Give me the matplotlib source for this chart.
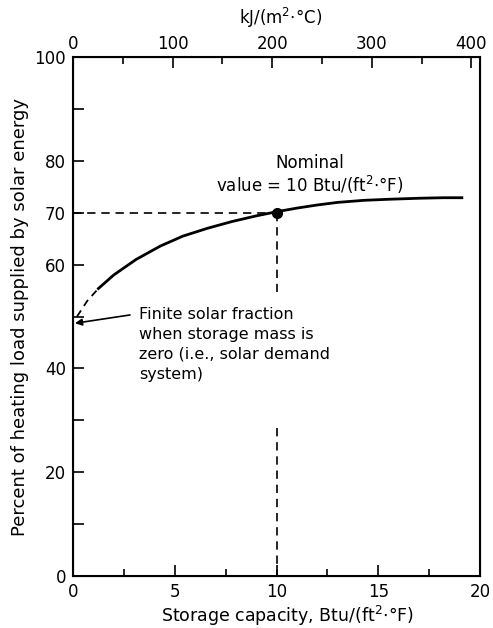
import matplotlib
matplotlib.use("Agg")
import matplotlib.pyplot as plt
import numpy as np

# curve: storage capacity (Btu/ft2 F) vs percent solar
x_dash = [0.2, 0.7, 1.25]
y_dash = [50.0, 53.0, 55.4]
x_solid = [1.25, 2.0, 3.1, 4.3, 5.4, 6.6, 7.8, 9.0, 10.0, 11.0, 12.0, 13.0, 14.3, 15.5, 17.0, 18.2, 19.1]
y_solid = [55.4, 58.0, 61.0, 63.6, 65.5, 67.0, 68.3, 69.4, 70.2, 70.9, 71.5, 72.0, 72.4, 72.6, 72.8, 72.9, 72.9]
nominal_x, nominal_y = 10, 70

yticks = [0, 10, 20, 30, 40, 50, 60, 70, 80, 90, 100]
ylabels = ["0", "", "20", "", "40", "", "60", "70", "80", "", "100"]
top_ticks = [0, 100, 200, 300, 400]
conv = 20.44  # kJ/(m2 C) per Btu/(ft2 F)

plt.rcParams["font.family"] = ["DejaVu Sans"]
fig = plt.figure(figsize=(4.93, 6.28), dpi=100)
ax = fig.add_axes([0.148, 0.083, 0.826, 0.826])

ax.plot(x_dash, y_dash, color="black", linestyle=(0, (4, 3)), linewidth=1.3)
ax.plot(x_solid, y_solid, color="black", linewidth=2)
ax.plot(nominal_x, nominal_y, "o", color="black", markersize=7)

# guide lines at nominal value
dash = (0, (5, 3.5))
ax.plot([0, nominal_x], [nominal_y, nominal_y], color="black", linestyle=dash, linewidth=1.2)
ax.plot([nominal_x, nominal_x], [nominal_y, 54.7], color="black", linestyle=dash, linewidth=1.2)
ax.plot([nominal_x, nominal_x], [28.5, 0], color="black", linestyle=dash, linewidth=1.2)

ax.set_xlim(0, 20)
ax.set_ylim(0, 100)
ax.set_xticks([0, 5, 10, 15, 20])
ax.set_xticks([2.5, 7.5, 12.5, 17.5], minor=True)
ax.set_yticks(yticks)
ax.set_yticklabels(ylabels)
ax.tick_params(direction="in", length=8, width=1.2, labelsize=12)
ax.tick_params(axis="x", pad=5)
ax.tick_params(axis="y", pad=5)
ax.tick_params(which="minor", direction="in", length=5, width=1.2)
for s in ax.spines.values():
    s.set_linewidth(1.5)

ax.set_xlabel("Storage capacity, Btu/(ft$^2$$\\cdot$°F)", fontsize=12.5, labelpad=2)
ax.xaxis.label.set_x(0.528)
ax.set_ylabel("Percent of heating load supplied by solar energy", fontsize=13, labelpad=4)

top = ax.twiny()
top.set_xlim(0, 20 * conv)
top.set_xticks(top_ticks)
top.set_xticks([50, 150, 250, 350], minor=True)
top.tick_params(direction="in", length=8, width=1.2, labelsize=12, pad=3)
top.tick_params(which="minor", direction="in", length=5, width=1.2)
top.set_xlabel("kJ/(m$^2$$\\cdot$°C)", fontsize=12, labelpad=8)
top.xaxis.label.set_x(0.51)

ax.text(11.65, 79.6, "Nominal", fontsize=12, ha="center", va="center")
ax.text(11.65, 75.3, "value = 10 Btu/(ft$^2$$\\cdot$°F)", fontsize=12, ha="center", va="center")

ax.text(3.25, 51.8, "Finite solar fraction\nwhen storage mass is\nzero (i.e., solar demand\nsystem)",
        fontsize=11.5, va="top", ha="left", linespacing=1.4)
ax.annotate("", xy=(0.1, 48.7), xytext=(2.8, 50.3),
            arrowprops=dict(arrowstyle="-|>", color="black", lw=1.2, shrinkA=0, shrinkB=0))

plt.savefig("out.png", dpi=100)
